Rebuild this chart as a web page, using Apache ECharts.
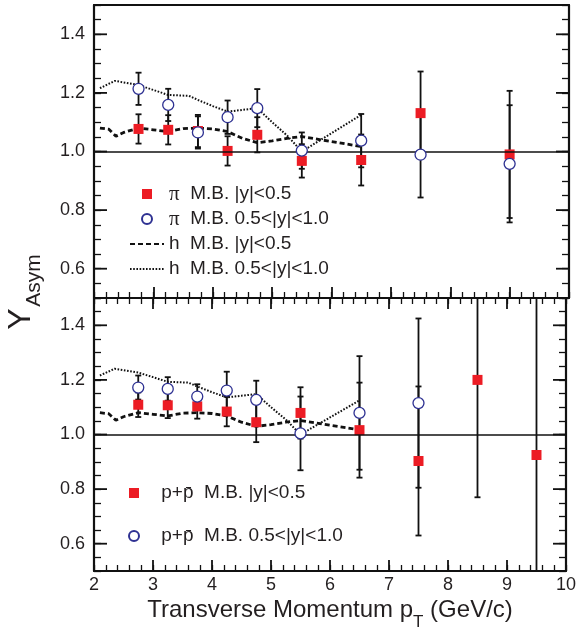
<!DOCTYPE html>
<html><head><meta charset="utf-8">
<script src="https://cdn.jsdelivr.net/npm/echarts@6/dist/echarts.min.js"></script>
<style>html,body{margin:0;padding:0;background:#fff}#c{width:579px;height:633px}</style>
</head><body><div id="c"></div>
<script>
// ---- data ----
const ptX = [2.75, 3.25, 3.75, 4.25, 4.75, 5.5, 6.5, 7.5, 9.0];
const piMid = [1.077, 1.074, 1.070, 1.002, 1.057, 0.968, 0.971, 1.131, 0.990];
const piMidErr = [0.050, 0.050, 0.055, 0.050, 0.060, 0.057, 0.087, 0.142, 0.217];
const piFwd = [1.214, 1.159, 1.065, 1.117, 1.148, 1.003, 1.037, 0.989, 0.958];
const piFwdErr = [0.055, 0.055, 0.055, 0.057, 0.065, 0.062, 0.091, 0.146, 0.200];

const ppX = [2.75, 3.25, 3.75, 4.25, 4.75, 5.5, 6.5, 7.5, 8.5, 9.5];
const ppMid = [1.109, 1.107, 1.103, 1.084, 1.045, 1.079, 1.016, 0.903, 1.200, 0.925];
const ppMidErr = [0.045, 0.047, 0.045, 0.054, 0.073, 0.094, 0.174, 0.273, 0.430, 0.620];
const ppFwdX = [2.75, 3.25, 3.75, 4.25, 4.75, 5.5, 6.5, 7.5];
const ppFwd = [1.172, 1.167, 1.139, 1.161, 1.127, 1.004, 1.079, 1.115];
const ppFwdErr = [0.044, 0.043, 0.045, 0.069, 0.070, 0.135, 0.208, 0.310];

const hMidX = [2.1, 2.25, 2.37, 2.5, 2.75, 3.0, 3.25, 3.5, 3.75, 4.0, 4.25, 4.5, 4.75, 5.0, 5.25, 5.5, 6.5];
const hMid = [1.080, 1.076, 1.052, 1.065, 1.080, 1.074, 1.068, 1.078, 1.080, 1.077, 1.068, 1.045, 1.030, 1.036, 1.045, 1.051, 1.017];
const hFwdX = [2.1, 2.35, 2.75, 3.0, 3.25, 3.6, 3.75, 4.0, 4.25, 4.5, 4.75, 5.0, 5.25, 5.5, 6.5];
const hFwd = [1.216, 1.241, 1.227, 1.210, 1.193, 1.190, 1.176, 1.155, 1.136, 1.142, 1.148, 1.100, 1.055, 1.000, 1.125];

const yMajorTicks = [0.6, 0.8, 1.0, 1.2, 1.4];
const xTickLabels = [2, 3, 4, 5, 6, 7, 8, 9, 10];

const nmPiMid = 'π  M.B. |y|<0.5';
const nmPiFwd = 'π  M.B. 0.5<|y|<1.0';
const nmHMid = 'h  M.B. |y|<0.5';
const nmHFwd = 'h  M.B. 0.5<|y|<1.0';
const nmPpMid = 'p+p\u0304  M.B. |y|<0.5';
const nmPpFwd = 'p+p\u0304  M.B. 0.5<|y|<1.0';

// ---- styles ----
const FONT = 'Liberation Sans';
const INK = '#231f20';
const RED = '#ec1c24';
const BLUE = '#2e3192';

const chart = echarts.init(document.getElementById('c'), null, {renderer: 'canvas'});

function pairs(xs, ys) { return xs.map((x, i) => [x, ys[i]]); }
function triples(xs, ys, es) { return xs.map((x, i) => [x, ys[i], es[i]]); }

function errRender(params, api) {
  const x = api.value(0), y = api.value(1), e = api.value(2);
  const cs = params.coordSys;
  const px = api.coord([x, y])[0];
  const top = api.coord([x, y + e])[1];
  const bot = api.coord([x, y - e])[1];
  const yT = Math.max(top, cs.y), yB = Math.min(bot, cs.y + cs.height);
  const st = {stroke: '#111', lineWidth: 1.8};
  const ch = [{type: 'line', shape: {x1: px, y1: yT, x2: px, y2: yB}, style: st}];
  if (top >= cs.y) ch.push({type: 'line', shape: {x1: px - 3, y1: top, x2: px + 3, y2: top}, style: st});
  if (bot <= cs.y + cs.height) ch.push({type: 'line', shape: {x1: px - 3, y1: bot, x2: px + 3, y2: bot}, style: st});
  return {type: 'group', children: ch};
}

function majorTickRender(params, api) {
  const v = api.value(0);
  const l = api.coord([2, v]);
  const r = api.coord([10, v]);
  const st = {stroke: '#111', lineWidth: 1.8};
  return {type: 'group', children: [
    {type: 'line', shape: {x1: l[0], y1: l[1], x2: l[0] + 13, y2: l[1]}, style: st},
    {type: 'line', shape: {x1: r[0] - 13, y1: r[1], x2: r[0], y2: r[1]}, style: st}
  ]};
}

const axisLine = {show: true, onZero: false, lineStyle: {color: '#111', width: 2.2}};

function xAx(grid, pos, interval, tickLen, showLabel, showLine, showTick) {
  return {
    type: 'value', gridIndex: grid, position: pos, min: 2, max: 10, interval: interval,
    axisLine: showLine ? axisLine : {show: false},
    axisTick: {show: showTick, inside: true, length: tickLen, lineStyle: {color: '#111', width: tickLen > 8 ? 1.8 : 1.3}},
    axisLabel: showLabel ? {show: true, margin: 5, fontSize: 18, fontFamily: FONT, color: INK,
      formatter: v => String(Math.round(v))} : {show: false},
    splitLine: {show: false}
  };
}
function yAx(grid, pos, showLabel) {
  return {
    type: 'value', gridIndex: grid, position: pos, min: 0.5, max: 1.5, interval: 0.05,
    axisLine: axisLine,
    axisTick: {show: true, inside: true, length: 7, lineStyle: {color: '#111', width: 1.3}},
    axisLabel: showLabel ? {show: true, margin: 9, fontSize: 18, fontFamily: FONT, color: INK,
      formatter: v => {
        const k = Math.round(v * 100);
        return yMajorTicks.some(t => Math.round(t * 100) === k) ? v.toFixed(1) : '';
      }} : {show: false},
    splitLine: {show: false}
  };
}

const legendText = {fontSize: 19, fontFamily: FONT, color: INK, lineHeight: 22,
  rich: {g: {fontFamily: 'Liberation Serif', fontSize: 21, color: INK, lineHeight: 22}}};
const hideSym = {opacity: 0};

const option = {
  animation: false,
  backgroundColor: '#fff',
  textStyle: {fontFamily: FONT},
  grid: [
    {left: 94, top: 5, width: 475, height: 293},
    {left: 94, top: 298, width: 475, height: 273}
  ],
  xAxis: [
    xAx(0, 'bottom', 0.2, 6, false, true, true),   // 0
    xAx(0, 'bottom', 1, 11, false, false, true),   // 1
    xAx(0, 'top', 1, 11, false, true, false),      // 2
    xAx(1, 'bottom', 0.2, 6, false, true, true),   // 3
    xAx(1, 'bottom', 1, 11, true, false, true),    // 4
    xAx(1, 'top', 0.2, 6, false, true, true),      // 5
    xAx(1, 'top', 1, 11, false, false, true)       // 6
  ],
  yAxis: [
    yAx(0, 'left', true),   // 0
    yAx(0, 'right', false), // 1
    yAx(1, 'left', true),   // 2
    yAx(1, 'right', false)  // 3
  ],
  legend: [
    {
      left: 129, top: 183, orient: 'vertical', padding: 0,
      itemWidth: 34, itemHeight: 10, itemGap: 3, selectedMode: false,
      textStyle: legendText,
      formatter: n => n.replace('π', '{g|π}'),
      data: [
        {name: nmPiMid, icon: 'path://M0,0H10V10H0Z'},
        {name: nmPiFwd, icon: 'circle'},
        {name: nmHMid, itemStyle: hideSym},
        {name: nmHFwd, itemStyle: hideSym}
      ]
    },
    {
      left: 128, top: 482, orient: 'vertical', padding: 0,
      itemWidth: 34, itemHeight: 10, itemGap: 21, selectedMode: false,
      textStyle: legendText,
      formatter: n => ' ' + n,
      data: [
        {name: nmPpMid, icon: 'path://M0,0H10V10H0Z'},
        {name: nmPpFwd, icon: 'circle'}
      ]
    }
  ],
  graphic: [
    {type: 'text', x: 330, y: 598.8, z: 10,
     style: {text: '{a|Transverse Momentum p}{s|T}{a| (GeV/c)}', align: 'center', verticalAlign: 'top',
       rich: {
         a: {fontSize: 24, lineHeight: 24, fontFamily: FONT, fill: INK, verticalAlign: 'top'},
         s: {fontSize: 17, lineHeight: 17, fontFamily: FONT, fill: INK, verticalAlign: 'top', padding: [15, 0, 0, 0]}
       }}},
    {type: 'text', x: 21.5, y: 319, rotation: Math.PI / 2, z: 10,
     style: {text: 'Y', fontSize: 32, fontFamily: FONT, fill: INK, align: 'center', verticalAlign: 'middle'}},
    {type: 'text', x: 34.5, y: 280.5, rotation: Math.PI / 2, z: 10,
     style: {text: 'Asym', fontSize: 21, fontFamily: FONT, fill: INK, align: 'center', verticalAlign: 'middle'}}
  ],
  series: [
    // ----- top panel -----
    {type: 'custom', name: 'ticksTop', xAxisIndex: 0, yAxisIndex: 0, renderItem: majorTickRender,
     data: yMajorTicks.map(v => [v]), encode: {y: 0}, silent: true, z: 1, clip: false},
    {type: 'line', name: nmHMid, xAxisIndex: 0, yAxisIndex: 0, data: pairs(hMidX, hMid), symbol: 'none',
     lineStyle: {color: '#111', width: 2.8, type: [5, 3]}, itemStyle: {color: '#111'}, z: 2,
     markLine: {silent: true, symbol: 'none', label: {show: false}, animation: false,
       lineStyle: {color: '#111', width: 1.5, type: 'solid'}, data: [{yAxis: 1}]}},
    {type: 'line', name: nmHFwd, xAxisIndex: 0, yAxisIndex: 0, data: pairs(hFwdX, hFwd), symbol: 'none',
     lineStyle: {color: '#111', width: 2, type: [1.6, 1.6]}, itemStyle: {color: '#111'}, z: 2},
    {type: 'custom', name: 'errPiMid', xAxisIndex: 0, yAxisIndex: 0, renderItem: errRender,
     data: triples(ptX, piMid, piMidErr), z: 3},
    {type: 'custom', name: 'errPiFwd', xAxisIndex: 0, yAxisIndex: 0, renderItem: errRender,
     data: triples(ptX, piFwd, piFwdErr), z: 3},
    {type: 'scatter', name: nmPiMid, xAxisIndex: 0, yAxisIndex: 0, data: pairs(ptX, piMid),
     symbol: 'rect', symbolSize: 10, itemStyle: {color: RED, opacity: 1}, z: 4},
    {type: 'scatter', name: nmPiFwd, xAxisIndex: 0, yAxisIndex: 0, data: pairs(ptX, piFwd),
     symbol: 'circle', symbolSize: 11, itemStyle: {color: '#fff', borderColor: BLUE, borderWidth: 1.3, opacity: 1}, z: 5},
    // ----- bottom panel -----
    {type: 'custom', name: 'ticksBot', xAxisIndex: 3, yAxisIndex: 2, renderItem: majorTickRender,
     data: yMajorTicks.map(v => [v]), encode: {y: 0}, silent: true, z: 1, clip: false},
    {type: 'line', name: nmHMid, xAxisIndex: 3, yAxisIndex: 2, data: pairs(hMidX, hMid), symbol: 'none',
     lineStyle: {color: '#111', width: 2.8, type: [5, 3]}, itemStyle: {color: '#111'}, z: 2,
     markLine: {silent: true, symbol: 'none', label: {show: false}, animation: false,
       lineStyle: {color: '#111', width: 1.5, type: 'solid'}, data: [{yAxis: 1}]}},
    {type: 'line', name: nmHFwd, xAxisIndex: 3, yAxisIndex: 2, data: pairs(hFwdX, hFwd), symbol: 'none',
     lineStyle: {color: '#111', width: 2, type: [1.6, 1.6]}, itemStyle: {color: '#111'}, z: 2},
    {type: 'custom', name: 'errPpMid', xAxisIndex: 3, yAxisIndex: 2, renderItem: errRender,
     data: triples(ppX, ppMid, ppMidErr), z: 3},
    {type: 'custom', name: 'errPpFwd', xAxisIndex: 3, yAxisIndex: 2, renderItem: errRender,
     data: triples(ppFwdX, ppFwd, ppFwdErr), z: 3},
    {type: 'scatter', name: nmPpMid, xAxisIndex: 3, yAxisIndex: 2, data: pairs(ppX, ppMid),
     symbol: 'rect', symbolSize: 10, itemStyle: {color: RED, opacity: 1}, z: 4},
    {type: 'scatter', name: nmPpFwd, xAxisIndex: 3, yAxisIndex: 2, data: pairs(ppFwdX, ppFwd),
     symbol: 'circle', symbolSize: 11, itemStyle: {color: '#fff', borderColor: BLUE, borderWidth: 1.3, opacity: 1}, z: 5}
  ]
};
chart.setOption(option);
</script>
</body></html>
